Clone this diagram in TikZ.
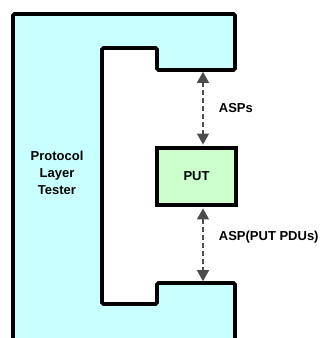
\documentclass[tikz,border=0pt]{standalone}
\usepackage{fontspec}
\setmainfont{Liberation Sans}
\usetikzlibrary{arrows.meta}
\definecolor{testercyan}{HTML}{C8FFFF}
\definecolor{putgreen}{HTML}{CCFFCC}
\begin{document}
\begin{tikzpicture}[x=1pt,y=-1pt,line width=3.8pt,every node/.style={font=\bfseries\fontsize{13}{17}\selectfont,inner sep=1pt},
  asp/.style={{Triangle[length=11pt,width=12pt]}-{Triangle[length=11pt,width=12pt]},line width=1.3pt,draw=black!70,dash pattern=on 5pt off 3pt,shorten <=1.8pt,shorten >=1.8pt}]
\useasboundingbox (0,0) rectangle (331,338);
\clip (0,0) rectangle (331,338);
\draw[fill=testercyan,rounded corners=1.5pt] (13,345) -- (13,14) -- (235,14) -- (235,70) -- (157,70) -- (157,48) -- (102,48) -- (102,304) -- (157,304) -- (157,283) -- (235,283) -- (235,345);
\node[draw,fill=putgreen,minimum width=79pt,minimum height=56.5pt,inner sep=0pt] (put) at (196.5,176.5) {PUT};
\coordinate (upper) at (203,70);
\coordinate (lower) at (203,283);
\draw[asp] (upper) -- (put.north -| upper);
\draw[asp] (put.south -| lower) -- (lower);
\node[align=center] (tester) at (57,173) {Protocol\\Layer\\Tester};
\node[anchor=west] (asps) at (216,108) {ASPs};
\node[anchor=west] (pdus) at (216,237) {ASP(PUT PDUs)};
\end{tikzpicture}
\end{document}
